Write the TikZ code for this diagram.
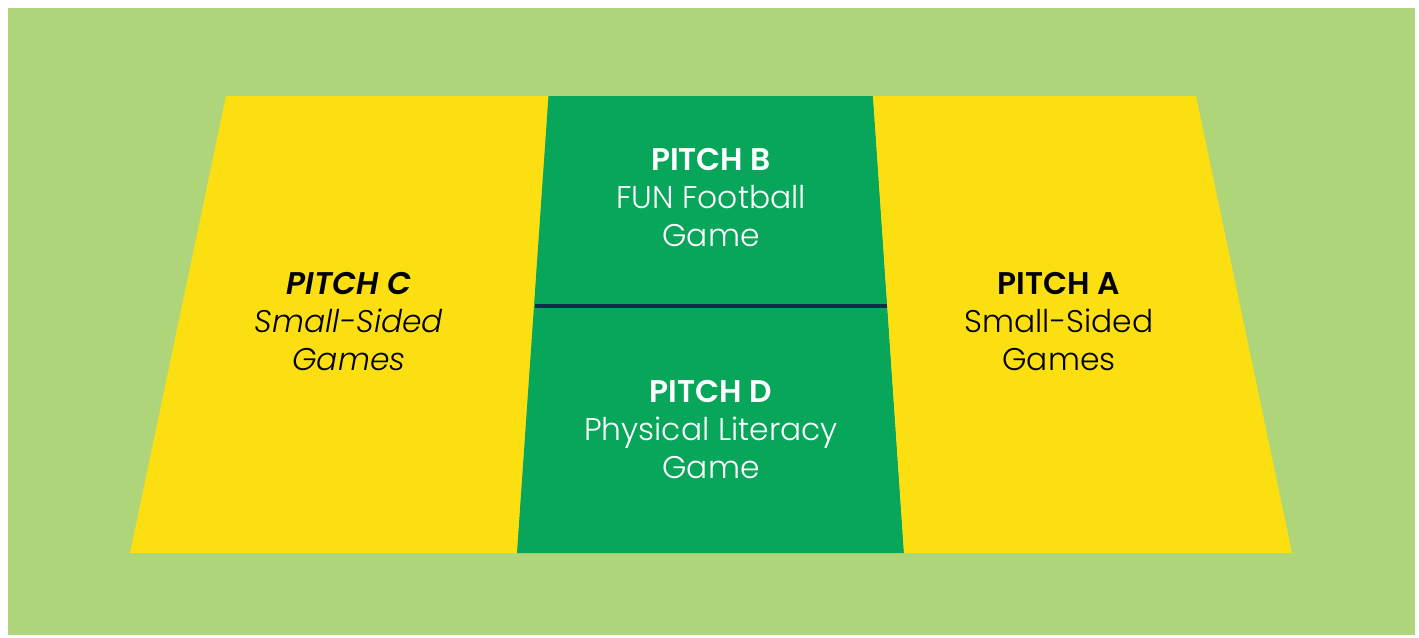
\documentclass[tikz,border=0pt]{standalone}
\usepackage{fontspec}
\setmainfont{Poppins Light}[
  BoldFont={Poppins SemiBold},
  ItalicFont={Poppins Light Italic},
  BoldItalicFont={Poppins SemiBold Italic}]

\definecolor{grass}{HTML}{AED57A}
\definecolor{pitchyellow}{HTML}{FCDF11}
\definecolor{pitchgreen}{HTML}{07A65A}
\definecolor{divider}{HTML}{0E2E4C}

\begin{document}
\begin{tikzpicture}[x=0.75pt,y=-0.75pt]
  \newcommand{\storeCorner}[3]{
    \pgfcoordinate{#1}{\pgfpointxy{#2}{#3}}
  }

  % page and grass
  \useasboundingbox (0,0) rectangle (1419,637);
  \fill[grass] (8,8) rectangle (1415,635);

  % corners of the pitches
  \storeCorner{cTL}{226}{96}
  \storeCorner{cBL}{130}{553}
  \storeCorner{mTL}{548.5}{96}
  \storeCorner{mBL}{517}{553}
  \storeCorner{mTR}{873}{96}
  \storeCorner{mBR}{904}{553}
  \storeCorner{aTR}{1196}{96}
  \storeCorner{aBR}{1292}{553}

  \fill[pitchyellow] (cTL) -- (mTL) -- (mBL) -- (cBL) -- cycle;
  \fill[pitchgreen] (mTL) -- (mTR) -- (mBR) -- (mBL) -- cycle;
  \fill[pitchyellow] (mTR) -- (aTR) -- (aBR) -- (mBR) -- cycle;

  \coordinate (divL) at (535,305.5);
  \coordinate (divR) at (887,305.5);
  \draw[divider, line width=3pt] (divL) -- (divR);

  \tikzset{label/.style={align=center, font=\fontsize{23.5}{28.5}\selectfont}}

  \node[label, text=white] (pitchB) at (711,198) {\textbf{PITCH B}\\FUN Football\\Game};
  \node[label, text=white] (pitchD) at (711,430) {\textbf{PITCH D}\\Physical Literacy\\Game};
  \node[label, text=black, font=\fontsize{23.5}{28.5}\selectfont\itshape] (pitchC) at (349,322) {\textbf{PITCH C}\\Small-Sided\\Games};
  \node[label, text=black] (pitchA) at (1059,322) {\textbf{PITCH A}\\Small-Sided\\Games};
\end{tikzpicture}
\end{document}
